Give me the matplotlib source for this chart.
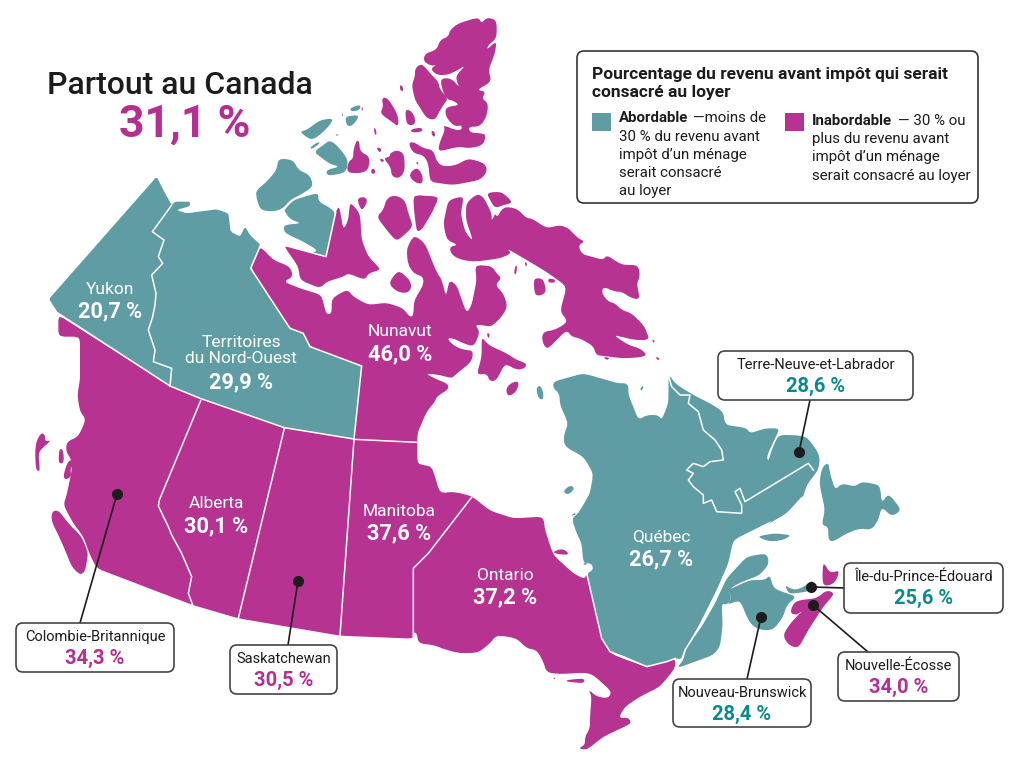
import matplotlib
matplotlib.use('Agg')
import matplotlib.pyplot as plt
from matplotlib.patches import FancyBboxPatch, Polygon, Rectangle

plt.rcParams['font.family'] = ['Roboto', 'DejaVu Sans']

TEAL = '#5f9ca3'
PURPLE = '#b63392'
TEAL_TEXT = '#0a8a8c'
PURPLE_TEXT = '#b52e93'
DARK = '#1c1c1c'

# valeurs du graphique
national_value = 31.1
threshold = 30
inside_names = ['Yukon', 'Territoires\ndu Nord-Ouest', 'Nunavut', 'Alberta', 'Manitoba', 'Ontario', 'Québec']
inside_values = [20.7, 29.9, 46.0, 30.1, 37.6, 37.2, 26.7]
inside_x = [110, 241, 400, 216, 399, 505, 661]
inside_y = [289, 341, 332, 504, 511, 575, 537]
box_names = ['Terre-Neuve-et-Labrador', 'Île-du-Prince-Édouard', 'Nouvelle-Écosse',
             'Nouveau-Brunswick', 'Colombie-Britannique', 'Saskatchewan']
box_values = [28.6, 25.6, 34.0, 28.4, 34.3, 30.5]
box_left = [718, 844, 838, 673, 16, 230]
box_top = [351, 563, 652, 679, 623, 645]
box_right = [913, 1003, 959, 811, 174, 337]
box_bottom = [400, 613, 701, 727, 672, 694]
dot_x = [799, 811, 813, 761, 117, 298]
dot_y = [452, 587, 605, 617, 494, 581]
lead_x = [810, 845, 868, 747, 80, 288]
lead_y = [400, 588, 652, 679, 623, 645]


def crop(x0, y0, pts):
    return [(x0 + x / 3, y0 + y / 3) for x, y in pts]


c1 = lambda p: crop(0, 0, p)
c2 = lambda p: crop(500, 340, p)
c3 = lambda p: crop(0, 380, p)
c5 = lambda p: crop(240, 10, p)
c6 = lambda p: crop(440, 180, p)
c7 = lambda p: crop(340, 290, p)
c8 = lambda p: crop(400, 480, p)
c9 = lambda p: crop(660, 500, p)
ce = lambda p: crop(380, 10, p)
cl = lambda p: crop(660, 370, p)


def soften(pts, rounds=2, most=3.0):
    # coupe les angles sans toucher aux longs cotes droits
    for _ in range(rounds):
        out = []
        n = len(pts)
        for i in range(n):
            x0, y0 = pts[i]
            x1, y1 = pts[(i + 1) % n]
            d = max(((x1 - x0) ** 2 + (y1 - y0) ** 2) ** 0.5, 1e-6)
            t = min(0.25, most / d)
            out.append((x0 + (x1 - x0) * t, y0 + (y1 - y0) * t))
            out.append((x1 - (x1 - x0) * t, y1 - (y1 - y0) * t))
        pts = out
    return pts


# continent violet: Nunavut, provinces de l'ouest, Ontario
mainland = (
    c5([(60, 708), (100, 750), (150, 770), (160, 800), (130, 815), (180, 835), (245, 855), (258, 912),
        (275, 912), (275, 865), (322, 838), (340, 860), (385, 885), (440, 878), (490, 895), (508, 920),
        (520, 918), (522, 872), (550, 825), (550, 800), (520, 790), (503, 760), (500, 715), (522, 675),
        (555, 700), (585, 775), (598, 800)])
    + c6([(0, 290), (8, 310), (18, 350), (28, 300), (50, 315), (62, 350), (80, 400), (95, 375), (110, 300),
          (105, 255), (155, 258), (170, 280), (185, 295), (165, 315), (190, 340), (203, 380), (185, 410),
          (165, 430), (150, 440), (125, 435)])
    + c7([(405, 105), (420, 125), (402, 170), (370, 160), (340, 145), (320, 145), (345, 170), (375, 180),
          (400, 182), (395, 215), (345, 255), (335, 265), (300, 255), (255, 250), (290, 268), (325, 282),
          (325, 298), (290, 320), (285, 335), (260, 365), (245, 400), (232, 430), (232, 520), (250, 525),
          (275, 530), (285, 560), (300, 610), (340, 605), (395, 618)])
    + c8([(270, 92), (340, 115), (430, 110), (435, 150), (460, 225), (520, 280), (555, 298), (558, 280),
          (610, 480), (630, 520), (680, 540), (740, 560), (780, 550), (827, 535), (825, 565), (780, 620),
          (720, 650), (675, 680), (655, 715), (685, 712), (695, 730), (610, 770), (560, 810), (535, 805),
          (555, 795), (555, 770), (570, 745), (570, 710), (575, 650), (565, 628), (590, 650), (625, 655),
          (635, 635), (580, 585), (555, 578), (480, 582), (440, 578), (430, 545), (410, 510), (380, 505),
          (350, 475), (290, 465), (270, 490), (235, 518), (180, 520), (140, 510), (100, 495), (55, 490),
          (50, 458), (40, 458), (40, 476)])
    + c3([(1020, 767), (715, 715), (578, 675), (290, 565), (270, 525), (250, 470), (220, 430), (190, 375),
          (200, 345), (205, 320), (215, 275), (215, 240), (198, 215), (200, 185), (235, 170), (258, 118),
          (240, 95), (232, 45), (240, 0)])
    + c1([(240, 1010), (175, 1010), (175, 945), (510, 1158), (600, 1195), (853, 1283), (1062, 1317),
          (1085, 1098), (930, 1040), (910, 1000), (870, 985), (752, 805)])
)

purple_islands = [
    # Vancouver, Haida Gwaii et petites iles
    c3([(155, 395), (175, 390), (205, 430), (245, 470), (265, 520), (255, 575), (240, 585), (215, 560),
        (195, 510), (175, 465), (155, 425)]),
    c3([(110, 180), (125, 158), (135, 165), (135, 185), (155, 180), (115, 215), (120, 275), (108, 270), (105, 215)]),
    c3([(178, 205), (190, 210), (192, 250), (175, 250)]),
    c3([(205, 240), (232, 240), (210, 265), (215, 290), (195, 300), (190, 285)]),
    c3([(200, 340), (235, 325), (235, 340)]),
    # Victoria est
    c5([(287, 608), (295, 590), (300, 600), (310, 660), (325, 630), (330, 575), (360, 610), (365, 690), (385, 740),
        (415, 770), (420, 780), (385, 790), (375, 810), (325, 790), (310, 800), (260, 815), (240, 835), (180, 810),
        (175, 770), (130, 705), (258, 740)]),
    # archipel
    c5([(350, 565), (375, 560), (383, 575), (365, 605)]),
    c5([(440, 565), (465, 555), (495, 570), (505, 610), (520, 650), (470, 695), (440, 660), (410, 620), (430, 600)]),
    c5([(520, 555), (598, 560), (575, 610), (545, 660), (530, 665), (522, 600)]),
    c5([(445, 820), (475, 780), (510, 810), (515, 835), (500, 850), (470, 845)]),
    # Ellesmere et Axel Heiberg
    ce([(135, 130), (170, 120), (180, 90), (205, 80), (210, 60), (235, 40), (295, 22), (305, 40), (320, 22), (350, 30),
        (350, 85), (325, 105), (320, 120), (350, 92), (345, 130), (325, 180), (335, 215), (290, 240), (318, 245),
        (305, 265), (325, 280), (320, 320), (300, 350), (265, 350), (270, 368), (305, 370), (318, 375), (310, 405),
        (270, 415), (235, 410), (175, 425), (178, 400), (195, 360), (190, 345), (225, 360), (245, 360), (245, 345),
        (225, 350), (200, 325), (195, 300), (205, 290), (240, 285), (215, 270), (205, 270), (190, 250), (180, 205),
        (215, 205), (240, 235), (225, 200), (258, 165), (225, 185), (200, 195), (170, 195), (150, 175), (185, 157),
        (160, 170), (130, 155)]),
    ce([(105, 175), (125, 160), (155, 195), (175, 215), (180, 240), (205, 265), (190, 285), (175, 310), (165, 330),
        (140, 325), (118, 290), (105, 270), (95, 225), (105, 200)]),
    ce([(5, 265), (20, 262), (40, 290), (55, 320), (55, 350), (35, 335), (0, 310), (10, 290)]),
    ce([(75, 300), (90, 300), (105, 320), (105, 345), (80, 345)]),
    ce([(92, 358), (125, 352), (128, 365), (95, 368)]),
    ce([(155, 360), (165, 368), (165, 382), (155, 375)]),
    ce([(60, 225), (68, 228), (70, 245), (60, 240)]),
    ce([(85, 400), (100, 395), (130, 415), (160, 420), (170, 455), (190, 470), (230, 465), (265, 445), (315, 460),
        (322, 485), (300, 510), (220, 525), (180, 520), (150, 515), (145, 460), (130, 435), (100, 430)]),
    ce([(85, 495), (110, 470), (128, 495), (128, 522), (105, 518)]),
    ce([(30, 430), (50, 420), (72, 430), (75, 480), (60, 505), (35, 500), (32, 470), (10, 445), (30, 440)]),
    ce([(108, 455), (116, 458), (112, 466)]),
    c5([(350, 390), (358, 395), (360, 425), (390, 440), (385, 480), (360, 490), (320, 488), (325, 455), (340, 445), (340, 420)]),
    c5([(403, 350), (410, 365), (408, 378), (402, 365)]),
    c5([(408, 412), (425, 415), (420, 430)]),
    c5([(418, 445), (435, 450), (425, 458)]),
    c5([(395, 475), (405, 478), (405, 492), (393, 490)]),
    c5([(365, 290), (370, 295), (365, 305)]),
    # Baffin
    c6([(10, 130), (25, 60), (72, 48), (62, 100), (75, 155), (100, 185), (78, 120), (78, 70), (110, 42), (130, 50),
        (155, 100), (155, 125), (165, 100), (172, 112), (190, 80), (230, 85), (260, 115), (275, 115), (320, 145),
        (360, 135), (385, 145), (395, 155), (415, 175), (435, 185), (415, 195), (425, 222), (455, 230), (490, 240),
        (500, 225), (530, 245), (550, 255), (595, 255), (600, 290), (590, 310), (600, 358), (575, 355), (545, 335),
        (525, 335), (490, 320), (485, 340), (505, 365), (525, 370), (545, 390), (575, 400), (610, 435), (620, 455),
        (628, 480), (585, 480), (550, 472), (520, 465), (565, 495), (600, 505), (622, 525), (600, 532), (550, 535),
        (490, 528), (468, 525), (460, 498), (420, 475), (395, 470), (380, 450), (320, 510), (305, 480), (310, 455),
        (345, 450), (385, 425), (360, 395), (380, 320), (340, 290), (310, 270), (260, 240), (200, 205), (215, 220),
        (180, 235), (105, 245), (65, 240), (35, 225), (28, 200), (55, 195), (20, 180)]),
    c6([(140, 38), (185, 35), (220, 68), (190, 75), (165, 85), (150, 60)]),
    c6([(225, 260), (232, 255), (228, 285), (222, 280)]),
    c6([(253, 245), (262, 250), (258, 262)]),
    c6([(280, 295), (310, 295), (320, 340), (285, 350)]),
    c6([(325, 295), (345, 298), (345, 308), (325, 308)]),
    c6([(636, 478), (645, 482), (640, 490)]),
    c6([(645, 530), (660, 535), (655, 542)]),
    c6([(490, 530), (510, 534), (500, 541)]),
    c6([(140, 458), (150, 462), (145, 478)]),
    # Southampton, baie d'Hudson
    c7([(425, 140), (445, 165), (500, 190), (530, 210), (560, 220), (555, 235), (530, 240), (495, 220), (470, 270),
        (450, 275), (440, 250), (410, 255), (425, 200)]),
    c7([(497, 300), (510, 280), (538, 272), (530, 305), (505, 320)]),
    c8([(458, 215), (490, 205), (510, 225), (470, 222)]),
    c8([(500, 600), (553, 595), (553, 610), (500, 605)]),
    c8([(460, 592), (467, 595), (462, 598)]),
    # Cap-Breton et Nouvelle-Ecosse
    c9([(490, 185), (510, 220), (540, 210), (525, 250), (490, 260), (487, 225)]),
    c9([(400, 310), (420, 300), (470, 295), (500, 270), (525, 280), (490, 320), (445, 390), (415, 445), (385, 435),
        (368, 405), (395, 365), (430, 330), (410, 345), (390, 340)]),
]

yukon_nwt = c1([(470, 530), (490, 570), (515, 615), (525, 605), (570, 605), (570, 618), (530, 630), (560, 640), (650, 628),
                (685, 640), (692, 695), (720, 710), (735, 680), (750, 705), (782, 735), (752, 805), (870, 985), (910, 1000),
                (930, 1040), (1085, 1098), (1062, 1317), (853, 1283), (600, 1195), (510, 1158), (175, 940), (147, 897)])

quebec = (
    c2([(160, 125), (250, 100), (320, 120), (355, 130), (385, 130), (385, 165), (400, 200), (415, 240), (440, 225),
        (475, 225), (485, 240), (505, 190), (506, 102)])
    + cl([(45, 40), (75, 60), (110, 80), (150, 100), (190, 125), (195, 165), (235, 170), (260, 175), (270, 190),
          (300, 180), (320, 175), (360, 175), (345, 205), (320, 260), (325, 275), (335, 240), (355, 195), (400, 195),
          (440, 200), (470, 240), (480, 265), (475, 300), (440, 345), (430, 380)])
    + c2([(905, 470), (860, 520), (800, 555)])
    + c9([(340, 60), (220, 120), (205, 190), (170, 270), (120, 370), (75, 450), (65, 478)])
    + c2([(527, 955), (500, 965), (440, 980), (370, 950), (330, 935), (305, 895), (260, 700), (280, 690), (275, 670),
          (250, 670), (245, 610), (230, 580), (215, 535), (235, 520), (270, 460), (280, 400), (250, 350), (195, 320),
          (190, 290), (205, 250), (180, 195), (178, 160), (160, 145)])
)

teal_shapes = [
    quebec,
    # Gaspesie et Nouveau-Brunswick
    c9([(70, 480), (80, 440), (125, 380), (165, 310), (200, 235), (260, 170), (320, 160), (328, 190), (300, 225),
        (235, 250), (205, 270), (215, 295), (200, 315), (185, 310), (188, 375), (180, 440), (160, 465), (50, 505)]),
    c9([(205, 270), (215, 295), (200, 315), (240, 300), (260, 350), (275, 375), (300, 390), (340, 390), (370, 350),
        (380, 315), (410, 290), (380, 280), (340, 265), (330, 225), (315, 240), (270, 240), (215, 265)]),
    # Terre-Neuve, Anticosti
    c2([(965, 385), (985, 365), (990, 400), (1005, 450), (1025, 430), (1065, 440), (1085, 425), (1140, 435), (1145, 490),
        (1165, 460), (1205, 510), (1175, 530), (1145, 500), (1135, 540), (1115, 570), (1080, 565), (1040, 580), (1000, 605),
        (985, 600), (985, 560), (965, 555), (975, 510), (958, 430)]),
    c2([(770, 590), (820, 580), (875, 585), (850, 600), (810, 605)]),
    c9([(375, 255), (390, 265), (410, 270), (440, 255), (458, 240), (465, 265), (440, 275), (405, 280), (385, 280)]),
    c2([(108, 145), (120, 135), (130, 155), (130, 180), (115, 175)]),
    c2([(420, 145), (432, 135), (425, 155)]),
    c8([(488, 35), (510, 15), (525, 25), (505, 45)]),
    c8([(512, 108), (525, 98), (528, 104)]),
    c8([(548, 252), (560, 245), (558, 256)]),
    # Banks, Victoria, Melville
    c1([(835, 475), (880, 480), (895, 510), (930, 525), (940, 560), (900, 585), (870, 600), (850, 625), (820, 635),
        (780, 630), (765, 575), (800, 545), (830, 510)]),
    c5([(133, 600), (160, 570), (235, 548), (235, 575), (265, 590), (287, 608), (258, 740), (210, 730), (235, 722),
        (190, 695), (133, 668), (130, 645), (185, 640), (150, 628), (135, 605)]),
    c5([(222, 425), (250, 405), (270, 390), (295, 410), (325, 450), (318, 488), (262, 498), (258, 480), (300, 470),
        (270, 462), (240, 440)]),
    c5([(180, 365), (200, 360), (240, 330), (280, 325), (270, 345), (240, 375), (215, 390), (195, 378)]),
    c5([(315, 325), (325, 318), (360, 315), (340, 345), (322, 350)]),
    c5([(328, 295), (362, 283), (360, 300), (335, 305)]),
    c5([(210, 412), (235, 395), (240, 400), (215, 418)]),
    c5([(305, 308), (310, 315), (306, 320)]),
    c5([(285, 372), (298, 375), (290, 378)]),
]

white_lines = [
    c1([(515, 615), (490, 650), (457, 695), (492, 720), (475, 770), (488, 790), (455, 825), (468, 880), (465, 915), (458, 950),
        (445, 990), (465, 1050), (460, 1085), (515, 1105), (510, 1158)]),
    c1([(782, 735), (752, 805), (870, 985), (910, 1000), (930, 1040), (1085, 1098), (1062, 1317)]),
    c1([(175, 940), (510, 1158), (600, 1195), (853, 1283), (1062, 1317)]),
    c5([(287, 608), (258, 740), (130, 705)]),
    c3([(602, 62), (478, 360), (475, 378), (505, 440), (515, 465), (545, 520), (575, 590), (565, 640), (578, 675)]),
    c3([(853, 145), (715, 715)]),
    c3([(1062, 178), (1020, 767)]),
    c3([(1062, 178), (1250, 187)]),
    c3([(1418, 348), (1285, 520), (1240, 565), (1240, 777)]),
    c2([(260, 700), (305, 895), (330, 935), (370, 950), (440, 980), (500, 965), (527, 955)]),
    c9([(65, 480), (75, 450), (122, 376), (167, 300), (190, 230)]),
    cl([(25, 15), (35, 50), (60, 75), (90, 75), (85, 100), (115, 125), (130, 180), (165, 210), (185, 240), (190, 270), (150, 275),
        (130, 290), (100, 280), (80, 300), (100, 310), (85, 330), (100, 350), (130, 375), (130, 400)])
    + c2([(635, 480), (650, 515), (725, 520), (725, 495), (705, 455), (720, 445), (735, 485), (925, 370), (940, 390)]),
]


def pct(v):
    return f'{v:.1f}'.replace('.', ',') + ' %'


def fill_for(v):
    return TEAL if v < threshold else PURPLE


def text_for(v):
    return TEAL_TEXT if v < threshold else PURPLE_TEXT


fig = plt.figure(figsize=(10.24, 7.72), dpi=100)
ax = fig.add_axes([0, 0, 1, 1])
ax.set_xlim(0, 1024)
ax.set_ylim(772, 0)
ax.axis('off')

ax.add_patch(Polygon(soften(mainland), closed=True, fc=fill_for(inside_values[5]), ec='none', zorder=1))
for shape in purple_islands:
    ax.add_patch(Polygon(soften(shape), closed=True, fc=PURPLE, ec='none', zorder=1))
ax.add_patch(Polygon(soften(yukon_nwt, 1, 1.5), closed=True, fc=fill_for(inside_values[0]), ec='none', zorder=2))
for shape in teal_shapes:
    ax.add_patch(Polygon(soften(shape), closed=True, fc=TEAL, ec='none', zorder=2))
for line in white_lines:
    ax.plot([p[0] for p in line], [p[1] for p in line], color='white', lw=1.1, zorder=3)

# titre
ax.text(180, 85, 'Partout au Canada', fontsize=23, fontweight='medium', color=DARK, ha='center', va='center')
ax.text(185, 125, pct(national_value), fontsize=32, fontweight='bold', color=PURPLE_TEXT, ha='center', va='center')

# etiquettes sur la carte
for name, v, x, y in zip(inside_names, inside_values, inside_x, inside_y):
    n_lines = name.count('\n')
    ax.text(x, y + n_lines * 9.5, name, fontsize=12.5, color='white', ha='center', va='center',
            linespacing=1.12, zorder=5)
    ax.text(x, y + 22 + n_lines * 19, pct(v), fontsize=15.7, fontweight='bold', color='white',
            ha='center', va='center', zorder=5)

# encadres et lignes de rappel
for i, name in enumerate(box_names):
    ax.plot([dot_x[i], lead_x[i]], [dot_y[i], lead_y[i]], color=DARK, lw=1.2, zorder=6)
    ax.plot(dot_x[i], dot_y[i], 'o', ms=8, color=DARK, mec='none', zorder=7)
    l, t, r, b = box_left[i], box_top[i], box_right[i], box_bottom[i]
    ax.add_patch(FancyBboxPatch((l, t), r - l, b - t, boxstyle='round,pad=0,rounding_size=7',
                                fc='white', ec='#444444', lw=1.2, zorder=8))
    cx = (l + r) / 2
    ax.text(cx, t + 14, name, fontsize=10.5, color=DARK, ha='center', va='center', zorder=9)
    ax.text(cx, t + 35, pct(box_values[i]), fontsize=14.5, fontweight='bold', color=text_for(box_values[i]),
            ha='center', va='center', zorder=9)

# legende
ax.add_patch(FancyBboxPatch((577, 51), 401, 152, boxstyle='round,pad=0,rounding_size=7',
                            fc='white', ec='#333333', lw=1.2, zorder=8))
ax.text(592, 74, 'Pourcentage du revenu avant impôt qui serait', fontsize=12.5, fontweight='bold',
        color=DARK, va='center', zorder=9)
ax.text(592, 93, 'consacré au loyer', fontsize=12.5, fontweight='bold', color=DARK, va='center', zorder=9)
ax.add_patch(Rectangle((592, 113), 19, 18, fc=TEAL, ec='none', zorder=9))
ax.add_patch(Rectangle((785, 113), 19, 18, fc=PURPLE, ec='none', zorder=9))
ax.text(619, 118, 'Abordable', fontsize=10.8, fontweight='bold', color=DARK, va='center', zorder=9)
ax.text(693, 118, '—moins de', fontsize=10.8, color=DARK, va='center', zorder=9)
for y, s in zip([137, 155, 173, 191], ['30 % du revenu avant', 'impôt d’un ménage', 'serait consacré', 'au loyer']):
    ax.text(619, y, s, fontsize=10.8, color=DARK, va='center', zorder=9)
ax.text(812, 121, 'Inabordable', fontsize=10.8, fontweight='bold', color=DARK, va='center', zorder=9)
ax.text(898, 121, '— 30 % ou', fontsize=10.8, color=DARK, va='center', zorder=9)
for y, s in zip([139, 157, 176], ['plus du revenu avant', 'impôt d’un ménage', 'serait consacré au loyer']):
    ax.text(812, y, s, fontsize=10.8, color=DARK, va='center', zorder=9)

plt.savefig('out.png', dpi=100)
